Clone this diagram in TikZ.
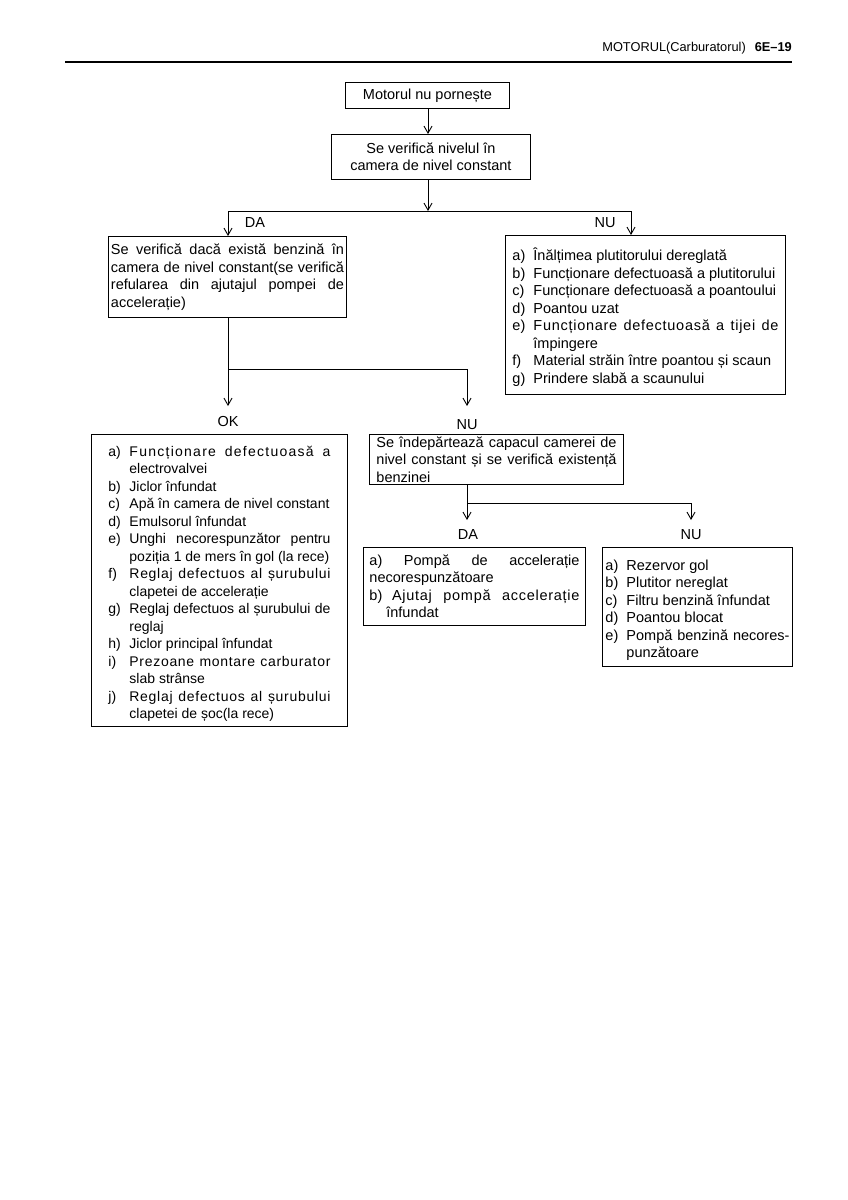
\documentclass[tikz,border=0pt]{standalone}
\usepackage{fontspec}
\setmainfont{Liberation Sans}
\newfontfamily\lsA[LetterSpace=9]{Liberation Sans}
\newfontfamily\lsB[LetterSpace=5]{Liberation Sans}
\usetikzlibrary{arrows.meta}
\newcommand\fs{\fontsize{14.5}{17.5}\selectfont}
\newcommand\fsm{\fontsize{14}{17.5}\selectfont}
\newcommand\jset{\tolerance=10000\hbadness=10000\hfuzz=3pt\hyphenpenalty=10000\exhyphenpenalty=10000\parindent=0pt}
\newcommand\li[2]{\par\hangindent=21pt\hangafter=1\noindent\makebox[21pt][l]{#1}#2\par}
\tikzset{
  box/.style={draw, line width=0.9pt, inner xsep=2pt, inner ysep=1pt, anchor=north west, font=\fs},
  jbox/.style={box, align=justify},
  arr/.style={line width=0.9pt, -{Straight Barb[length=7pt,width=8pt,line width=0.9pt]}},
  ln/.style={line width=0.9pt},
  lbl/.style={font=\fs, inner sep=0pt}
}
\begin{document}
\begin{tikzpicture}[x=1pt,y=-1pt]
\useasboundingbox (0,0) rectangle (848,1200);
% header
\node[anchor=base east, inner sep=0pt, font=\fontsize{12.8}{15}\selectfont] (hdr) at (792,51) {MOTORUL(Carburatorul)\hspace{9pt}\textbf{6E–19}};
\draw[line width=2.5pt] (65,62) -- (792,62);
% boxes
\node[box, align=center, minimum width=164pt, minimum height=26pt] (b1) at (345,82) {Motorul nu pornește};
\node[box, align=center, minimum width=199pt, minimum height=45pt] (b2) at (331,134) {Se verifică nivelul în\\camera de nivel constant};
\node[jbox, text width=233pt, minimum width=238pt, minimum height=81pt] (b3) at (108,236) {\jset Se verifică dacă există benzină în\linebreak camera de nivel constant(se verifică\linebreak refularea din ajutajul pompei de\linebreak accelerație)};
\node[jbox, text width=266pt, minimum width=280pt, minimum height=159pt] (b4) at (505,235) {\jset
\li{a)}{Înălțimea plutitorului dereglată}
\li{b)}{Funcționare defectuoasă a plutitorului}
\li{c)}{Funcționare defectuoasă a poantoului}
\li{d)}{Poantou uzat}
\li{e)}{{\lsB Funcționare defectuoasă a tijei de}\linebreak împingere}
\li{f)}{Material străin între poantou și scaun}
\li{g)}{Prindere slabă a scaunului}};
\node[jbox, font=\fsm, text width=222pt, minimum width=256pt, minimum height=292pt] (b5) at (91,434) {\jset
\li{a)}{{\lsA Funcționare defectuoasă a}\linebreak electrovalvei}
\li{b)}{Jiclor înfundat}
\li{c)}{Apă în camera de nivel constant}
\li{d)}{Emulsorul înfundat}
\li{e)}{Unghi necorespunzător pentru\linebreak poziția 1 de mers în gol (la rece)}
\li{f)}{{\lsB Reglaj defectuos al șurubului}\linebreak clapetei de accelerație}
\li{g)}{Reglaj defectuos al șurubului de\linebreak reglaj}
\li{h)}{Jiclor principal înfundat}
\li{i)}{{\lsB Prezoane montare carburator}\linebreak slab strânse}
\li{j)}{{\lsB Reglaj defectuos al șurubului}\linebreak clapetei de șoc(la rece)}};
\node[jbox, inner ysep=0pt, text width=240pt, minimum width=254pt, minimum height=50pt] (b6) at (369,434) {\jset Se îndepărtează capacul camerei de\linebreak nivel constant și se verifică existență\linebreak benzinei};
\node[jbox, text width=210pt, minimum width=222pt, minimum height=78pt] (b7) at (363,547) {\jset
a) Pompă de accelerație\linebreak necorespunzătoare\par
\setbox0\hbox{b) }\hangindent=\wd0\hangafter=1\noindent b) {\lsB Ajutaj pompă accelerație}\linebreak înfundat\par};
\node[jbox, inner xsep=3pt, text width=184pt, minimum width=190pt, minimum height=119pt] (b8) at (602,547) {\jset
\li{a)}{Rezervor gol}
\li{b)}{Plutitor nereglat}
\li{c)}{Filtru benzină înfundat}
\li{d)}{Poantou blocat}
\li{e)}{Pompă benzină necores-\linebreak punzătoare}};
% labels
\node[lbl] (l1) at (255,223) {DA};
\node[lbl] (l2) at (605,223) {NU};
\node[lbl] (l3) at (228,422) {OK};
\node[lbl] (l4) at (467,425) {NU};
\node[lbl] (l5) at (468,535) {DA};
\node[lbl] (l6) at (691,535) {NU};
% connectors
\coordinate (j1) at (428,211);
\coordinate (j1l) at (228,211);
\coordinate (j1r) at (631,211);
\draw[arr] (b1.south -| j1) -- (b2.north -| j1);
\draw[arr] (b2.south -| j1) -- (j1);
\draw[ln] (j1l) -- (j1r);
\draw[arr] (j1l) -- (j1l |- b3.north);
\draw[arr] (j1r) -- (j1r |- b4.north);
\coordinate (j2) at (228,369);
\coordinate (j2r) at (467,369);
\coordinate (t5) at (228,406);
\coordinate (t6) at (467,406);
\draw[ln] (b3.south -| j2) -- (j2) -- (j2r);
\draw[arr] (j2) -- (t5);
\draw[arr] (j2r) -- (t6);
\coordinate (j3) at (467,503);
\coordinate (j3r) at (691,503);
\coordinate (t7) at (467,520);
\coordinate (t8) at (691,520);
\draw[ln] (b6.south -| j3) -- (j3) -- (j3r);
\draw[arr] (j3) -- (t7);
\draw[arr] (j3r) -- (t8);
\end{tikzpicture}
\end{document}
